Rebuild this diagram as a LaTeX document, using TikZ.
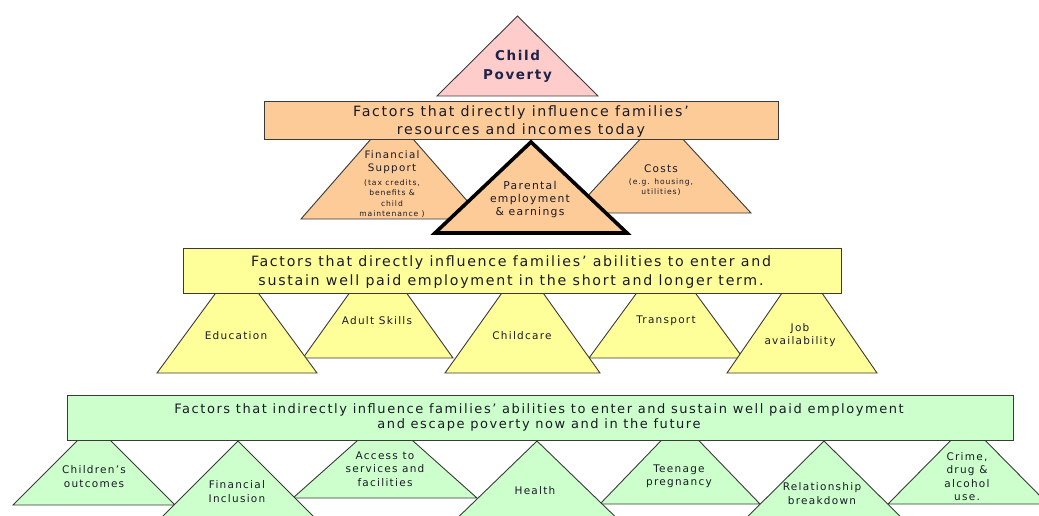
\documentclass[tikz,border=0pt]{standalone}
\usepackage{fontspec}
\setmainfont{DejaVu Sans}[LetterSpace=12]
\definecolor{edgec}{HTML}{3A3A3A}
\definecolor{txtc}{HTML}{1A1A26}
\definecolor{navyc}{HTML}{1E2448}
\definecolor{pinkc}{HTML}{FFCCCC}
\definecolor{orangec}{HTML}{FCCB98}
\definecolor{yellowc}{HTML}{FFFF99}
\definecolor{greenc}{HTML}{CCFFCC}
\newcommand\pyr[5]{\draw[#5] (#1,#2) -- ({#1+#4},#3) -- ({#1-#4},#3) -- cycle;}
\begin{document}
\begin{tikzpicture}[x=1pt,y=-1pt,
  outl/.style={draw=edgec, line width=0.9pt, line join=miter},
  pinkshape/.style={outl, fill=pinkc},
  orangeshape/.style={outl, fill=orangec},
  boldshape/.style={draw=black, line width=3.6pt, fill=orangec},
  yellowshape/.style={outl, fill=yellowc},
  greenshape/.style={outl, fill=greenc},
  lbl/.style={align=center, inner sep=0pt, text=txtc},
  headtext/.style={lbl, font=\fontsize{14.2}{18}\selectfont},
  midtext/.style={lbl, font=\fontsize{14.2}{19}\selectfont},
  lowtext/.style={lbl, font=\fontsize{13}{15.5}\selectfont},
  trilabel/.style={lbl, font=\fontsize{10.5}{13.5}\selectfont},
  smalllabel/.style={lbl, font=\fontsize{7.6}{10.4}\selectfont},
]
\useasboundingbox (0,0) rectangle (1039,516);
\clip (0,0) rectangle (1039,516);
\fill[white] (0,0) rectangle (1039,516);

% top
\pyr{517.5}{16}{96}{80.5}{pinkshape}
\node[lbl, text=navyc, font=\fontsize{13.5}{19}\selectfont\bfseries] (cp) at (517.5,66.5) {Child\\Poverty};

% orange level
\pyr{392}{115}{219}{91}{orangeshape}
\pyr{661.5}{116}{213}{89.5}{orangeshape}
\draw[orangeshape] (264,101) rectangle (778,139);
\node[headtext] (orangehead) at (521,122) {Factors that directly influence families’\\resources and incomes today};
\pyr{531}{142}{233}{96}{boldshape}
\node[trilabel, font=\fontsize{10.3}{13}\selectfont] (finsup) at (392,162.5) {Financial\\Support};
\node[smalllabel] (finsupsmall) at (392,198.5) {(tax credits,\\benefits \&\\child\\maintenance )};
\node[trilabel, font=\fontsize{10.8}{13}\selectfont] (parental) at (530,200) {Parental\\employment\\\& earnings};
\node[trilabel] (costs) at (661,169) {Costs};
\node[smalllabel] (costssmall) at (661,187) {(e.g. housing,\\utilities)};

% yellow level
\pyr{378}{253}{358}{75}{yellowshape}
\pyr{666}{253}{358}{77}{yellowshape}
\pyr{237}{264}{373}{80}{yellowshape}
\pyr{522.5}{264}{373}{77.5}{yellowshape}
\pyr{802}{264}{373}{75}{yellowshape}
\draw[yellowshape] (183,248) rectangle (841,293);
\node[midtext] (yellowhead) at (511,272.5) {Factors that directly influence families’ abilities to enter and\\sustain well paid employment in the short and longer term.};
\node[trilabel] (education) at (236,336) {Education};
\node[trilabel] (adult) at (377,321) {Adult Skills};
\node[trilabel] (childcare) at (522,336) {Childcare};
\node[trilabel] (transport) at (666,321) {Transport};
\node[trilabel] (job) at (800,335) {Job\\availability};

% green level
\pyr{94}{424}{505}{81}{greenshape}
\pyr{385}{416}{498}{92}{greenshape}
\pyr{680}{421}{504}{80}{greenshape}
\pyr{968}{423}{504}{80}{greenshape}
\draw[greenshape] (67,395) rectangle (1013,440);
\node[lowtext] (greenhead) at (539,417.5) {Factors that indirectly influence families’ abilities to enter and sustain well paid employment\\and escape poverty now and in the future};
\pyr{238}{441}{530}{89}{greenshape}
\pyr{537}{441}{530}{92}{greenshape}
\pyr{824}{441}{530}{90}{greenshape}
\node[trilabel] (children) at (94,476.5) {Children’s\\outcomes};
\node[trilabel] (fininc) at (237,491.5) {Financial\\Inclusion};
\node[trilabel] (access) at (385,469) {Access to\\services and\\facilities};
\node[trilabel] (health) at (535,491) {Health};
\node[trilabel] (teen) at (679,476.5) {Teenage\\pregnancy};
\node[trilabel] (relation) at (822,493.5) {Relationship\\breakdown};
\node[trilabel] (crime) at (967,476.5) {Crime,\\drug \&\\alcohol\\use.};
\end{tikzpicture}
\end{document}
